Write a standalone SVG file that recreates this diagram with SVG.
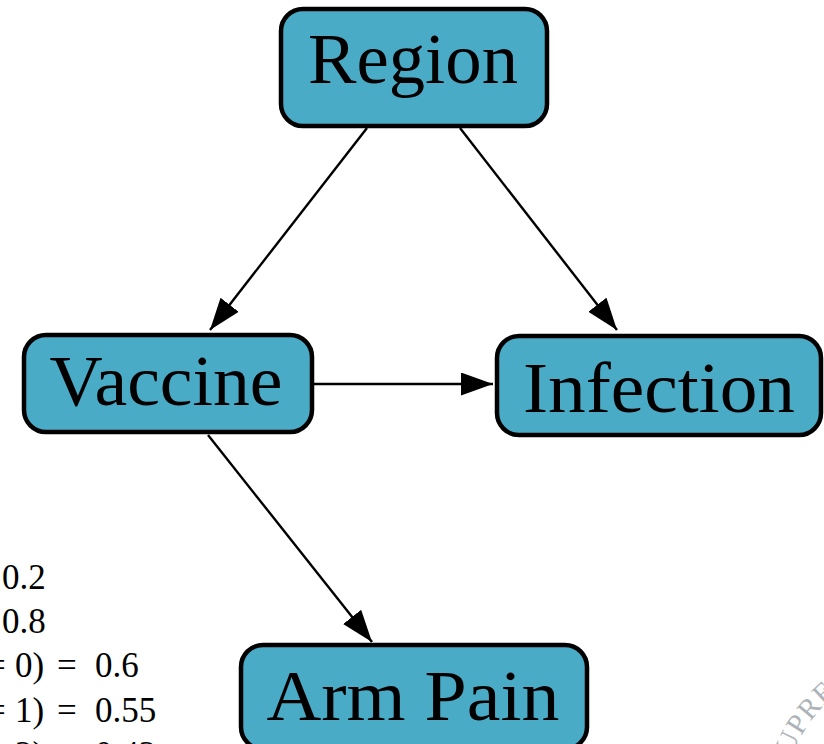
<svg xmlns="http://www.w3.org/2000/svg" width="824" height="744" viewBox="0 0 824 744">
<style>
.box{fill:#4aabc6;stroke:#000;stroke-width:4.5}
.lbl{font-family:"Liberation Serif","DejaVu Serif",serif;font-size:72px;fill:#000;text-anchor:middle}
.edge{stroke:#000;stroke-width:2.4;fill:none;marker-end:url(#ah)}
.eq{font-family:"Liberation Serif","DejaVu Serif",serif;font-size:35px;fill:#000}
.wm{font-family:"Liberation Serif","DejaVu Serif",serif;font-size:29px;fill:#aeb3b8;letter-spacing:1px}
</style>
<defs>
<marker id="ah" markerUnits="userSpaceOnUse" markerWidth="34" markerHeight="24" refX="32" refY="11.5" orient="auto">
<path d="M0,0 L32,11.5 L0,23 z" fill="#000"/>
</marker>
<path id="wmarc" d="M 792 756 A 150 150 0 0 1 905 662"/>
</defs>
<rect width="824" height="744" fill="#fff"/>
<g id="connectors">
<line class="edge" x1="367" y1="128" x2="210" y2="330"/>
<line class="edge" x1="460" y1="128" x2="617" y2="330"/>
<line class="edge" x1="314" y1="384" x2="493" y2="384"/>
<line class="edge" x1="208" y1="435" x2="372" y2="642"/>
</g>
<g id="region">
<rect class="box" x="281" y="9" width="266" height="117" rx="22"/>
<text class="lbl" x="413" y="83" textLength="210" lengthAdjust="spacingAndGlyphs">Region</text>
</g>
<g id="vaccine">
<rect class="box" x="24" y="335" width="288" height="97" rx="22"/>
<text class="lbl" x="166" y="405" textLength="233" lengthAdjust="spacingAndGlyphs">Vaccine</text>
</g>
<g id="infection">
<rect class="box" x="497" y="336" width="324" height="99" rx="22"/>
<text class="lbl" x="659" y="412" textLength="272" lengthAdjust="spacingAndGlyphs">Infection</text>
</g>
<g id="armpain">
<rect class="box" x="241" y="645" width="346" height="104" rx="22"/>
<text class="lbl" x="413" y="720" textLength="293" lengthAdjust="spacingAndGlyphs">Arm Pain</text>
</g>
<g id="equations">
<text class="eq" x="2" y="589">0.2</text>
<text class="eq" x="2" y="633">0.8</text>
<text class="eq" y="677"><tspan x="-14">=</tspan><tspan x="15">0)</tspan><tspan x="57">=</tspan><tspan x="95">0.6</tspan></text>
<text class="eq" y="722"><tspan x="-14">=</tspan><tspan x="15">1)</tspan><tspan x="57">=</tspan><tspan x="95">0.55</tspan></text>
<text class="eq" y="766"><tspan x="-14">=</tspan><tspan x="15">2)</tspan><tspan x="57">=</tspan><tspan x="95">0.42</tspan></text>
</g>
<g id="watermark">
<text class="wm"><textPath href="#wmarc" startOffset="0">UPRE</textPath></text>
</g>
</svg>
